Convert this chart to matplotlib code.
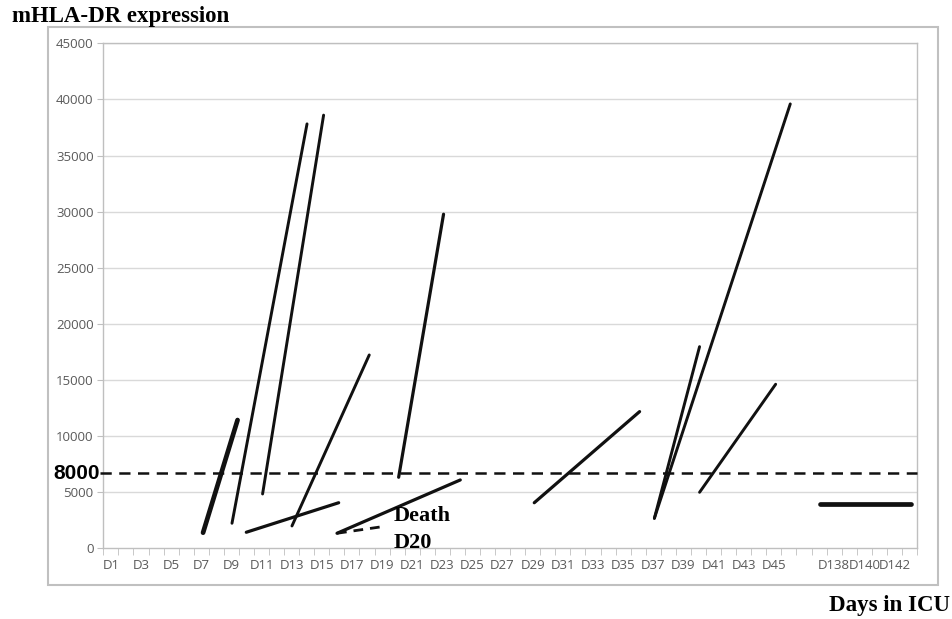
import matplotlib.pyplot as plt
from matplotlib.patches import Rectangle

# category axis: D1..D46, one blank slot, then D137..D143 (slot 1 = D1)
days = ["D%d" % i for i in range(1, 47)] + [""] + ["D%d" % i for i in range(137, 144)]

# each trajectory: start/end slot position and mHLA-DR values
seg_x0 = [7.12, 9.04, 11.07, 13.02, 9.99, 16.01, 20.10, 29.10, 37.07, 37.07, 40.07]
seg_x1 = [9.41, 14.02, 15.12, 18.15, 16.12, 24.19, 23.08, 36.09, 40.07, 46.09, 45.12]
seg_y0 = [1390, 2230, 4840, 1990, 1430, 1340, 6330, 4060, 2670, 2670, 4990]
seg_y1 = [11430, 37820, 38600, 17230, 4060, 6090, 29770, 12180, 17970, 39600, 14620]
seg_lw = [3.4, 2.1, 2.1, 2.1, 2.3, 2.3, 2.3, 2.3, 2.1, 2.1, 2.1]

# late follow-up (D137-D143)
late_x = [48.03, 54.10]
late_y = [3920, 3920]

# patient who died at D20
death_x = [16.01, 19.18]
death_y = [1340, 1960]

threshold = 6690   # dashed line labelled 8000
yticks = list(range(0, 45001, 5000))

fig = plt.figure(figsize=(9.52, 6.19), dpi=100)
W, H = 952, 619
ax = fig.add_axes([103.3 / W, 1 - 548.3 / H, (917 - 103.3) / W, (548.3 - 43.3) / H])

fig.patches.append(Rectangle((48.3 / W, 1 - 585 / H), (938 - 48.3) / W, (585 - 27.3) / H,
                             transform=fig.transFigure, fill=False,
                             edgecolor="#c0c0c0", lw=1.5))

n = len(days)
ax.set_xlim(0.5, n + 0.5)
ax.set_ylim(0, 45000)

grid_c = "#d9d9d9"
for v in yticks[1:]:
    ax.axhline(v, color=grid_c, lw=1, zorder=0)

for i in range(len(seg_x0)):
    ax.plot([seg_x0[i], seg_x1[i]], [seg_y0[i], seg_y1[i]], color="#111111",
            lw=seg_lw[i], solid_capstyle="round", zorder=3)
ax.plot(late_x, late_y, color="#111111", lw=3.4, solid_capstyle="round", zorder=3)
ax.plot(death_x, death_y, color="#111111", lw=2.0, ls=(0, (3.5, 2.5)), zorder=3)

ax.plot([0.3, n + 0.5], [threshold, threshold], color="#111111", lw=1.8,
        ls=(0, (4.5, 3)), clip_on=False, zorder=4)

tick_c = "#595959"
for s in ax.spines.values():
    s.set_color("#bfbfbf")
    s.set_linewidth(1)

ax.set_yticks(yticks)
ax.set_yticklabels([str(v) for v in yticks], fontsize=9.5, color=tick_c,
                   family=["Open Sans", "DejaVu Sans"])
ax.tick_params(axis="y", length=4, color="#bfbfbf", pad=3)

centers = list(range(1, n + 1, 2))
ax.set_xticks(centers)
ax.set_xticklabels([days[c - 1] for c in centers], fontsize=9.5, color=tick_c,
                   family=["Open Sans", "DejaVu Sans"])
ax.set_xticks([i + 0.5 for i in range(n + 1)], minor=True)
ax.tick_params(axis="x", which="major", length=0, pad=8)
ax.tick_params(axis="x", which="minor", length=5, color="#bfbfbf")

serif = ["Liberation Serif", "DejaVu Serif"]
fig.text(12 / W, 1 - 22 / H, "mHLA-DR expression", fontsize=16.5, fontweight="bold",
         family=serif, ha="left", va="baseline")
fig.text(950 / W, 1 - 611 / H, "Days in ICU", fontsize=16.5, fontweight="bold",
         family=serif, ha="right", va="baseline")
fig.text(100 / W, 1 - 473.3 / H, "8000", fontsize=15, fontweight="bold",
         family=["Liberation Sans", "DejaVu Sans"], ha="right", va="center")
fig.text(394 / W, 1 - 520.7 / H, "Death", fontsize=16, fontweight="bold",
         family=serif, ha="left", va="baseline")
fig.text(394 / W, 1 - 548.3 / H, "D20", fontsize=16, fontweight="bold",
         family=serif, ha="left", va="baseline")

plt.savefig("out.png", dpi=100)
